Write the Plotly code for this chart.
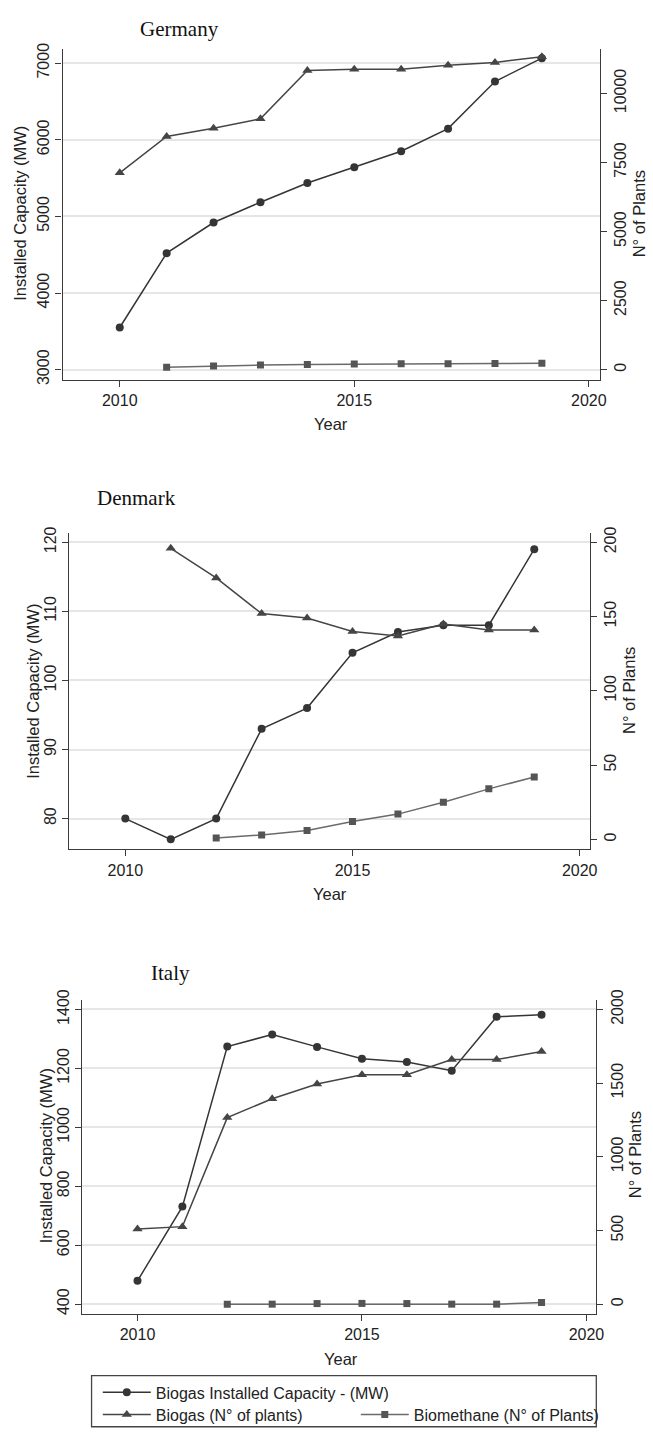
import plotly.graph_objects as go

# ---------------- data ----------------
years = [2010, 2011, 2012, 2013, 2014, 2015, 2016, 2017, 2018, 2019]

germany_capacity_mw = [3550, 4520, 4920, 5185, 5435, 5640, 5850, 6145, 6760, 7065]
germany_biogas_plants = [7125, 8440, 8735, 9080, 10825, 10870, 10870, 11015, 11120, 11325]
germany_biomethane_plants = [None, 85, 130, 165, 190, 205, 215, 215, 225, 230]

denmark_capacity_mw = [80, 77, 80, 93, 96, 104, 107, 108, 108, 119]
denmark_biogas_plants = [None, 196, 176, 152, 149, 140, 137, 145, 141, 141]
denmark_biomethane_plants = [None, None, 1, 3, 6, 12, 17, 25, 34, 42]

italy_capacity_mw = [479, 731, 1274, 1315, 1273, 1233, 1222, 1192, 1375, 1382]
italy_biogas_plants = [510, 526, 1266, 1394, 1494, 1557, 1557, 1660, 1660, 1714]
italy_biomethane_plants = [None, None, 0, 0, 4, 5, 4, 0, 0, 11]

x_ticks = [2010, 2015, 2020]
germany_left_ticks = [3000, 4000, 5000, 6000, 7000]
germany_right_ticks = [0, 2500, 5000, 7500, 10000]
denmark_left_ticks = [80, 90, 100, 110, 120]
denmark_right_ticks = [0, 50, 100, 150, 200]
italy_left_ticks = [400, 600, 800, 1000, 1200, 1400]
italy_right_ticks = [0, 500, 1000, 1500, 2000]

series_names = ["Biogas Installed Capacity - (MW)", "Biogas (N° of plants)", "Biomethane (N° of Plants)"]

# ---------------- layout helpers ----------------
W, H = 653, 1436
def px_x(p):
    return p / W
def px_y(p):
    return 1 - p / H

SANS = "Liberation Sans, Arial, sans-serif"
SERIF = "Liberation Serif, Times New Roman, serif"
AX = "#3a3a3a"
GRID = "#e6e6e6"
FS = 16

CAP_COLOR = "#353535"
BIO_COLOR = "#454545"
BME_LINE = "#6a6a6a"
BME_MARK = "#555555"

fig = go.Figure()

panels = [
    ("Germany", germany_capacity_mw, germany_biogas_plants, germany_biomethane_plants, "x", "y", "y2"),
    ("Denmark", denmark_capacity_mw, denmark_biogas_plants, denmark_biomethane_plants, "x2", "y3", "y4"),
    ("Italy", italy_capacity_mw, italy_biogas_plants, italy_biomethane_plants, "x3", "y5", "y6"),
]

for i, (name, cap, bio, bme, xa, yl, yr) in enumerate(panels):
    last = (i == len(panels) - 1)
    fig.add_trace(go.Scatter(
        x=years, y=cap, xaxis=xa, yaxis=yl, mode="lines+markers",
        name=series_names[0], showlegend=last, legend="legend",
        line=dict(color=CAP_COLOR, width=1.5),
        marker=dict(symbol="circle", size=8, color=CAP_COLOR),
    ))
    fig.add_trace(go.Scatter(
        x=years, y=bio, xaxis=xa, yaxis=yr, mode="lines+markers",
        name=series_names[1], showlegend=last, legend="legend2",
        line=dict(color=BIO_COLOR, width=1.5),
        marker=dict(symbol="triangle-up", size=9, color=BIO_COLOR),
    ))
    fig.add_trace(go.Scatter(
        x=years, y=bme, xaxis=xa, yaxis=yr, mode="lines+markers",
        name=series_names[2], showlegend=last, legend="legend2",
        line=dict(color=BME_LINE, width=1.5),
        marker=dict(symbol="square", size=7, color=BME_MARK),
    ))

def xaxis_cfg(left, right, rng, anchor):
    return dict(domain=[px_x(left), px_x(right)], anchor=anchor, range=rng,
                tickmode="array", tickvals=x_ticks, showgrid=False, zeroline=False,
                showline=True, linecolor=AX, linewidth=1.3, ticks="outside",
                ticklen=6, tickwidth=1.3, tickcolor=AX,
                tickfont=dict(family=SANS, size=FS, color="#222"))

def yleft_cfg(top, bottom, rng, ticks, anchor):
    return dict(domain=[px_y(bottom), px_y(top)], anchor=anchor, range=rng,
                tickmode="array", tickvals=ticks, tickangle=-90, tickformat="d",
                showgrid=True, gridcolor=GRID, gridwidth=1.5, zeroline=False,
                showline=True, linecolor=AX, linewidth=1.3, ticks="outside",
                ticklen=6, tickwidth=1.3, tickcolor=AX,
                tickfont=dict(family=SANS, size=FS, color="#222"))

def yright_cfg(rng, ticks, anchor, overlay):
    return dict(overlaying=overlay, side="right", anchor=anchor, range=rng,
                tickmode="array", tickvals=ticks, tickangle=-90, tickformat="d",
                showgrid=False, zeroline=False,
                showline=True, linecolor=AX, linewidth=1.3, ticks="outside",
                ticklen=6, tickwidth=1.3, tickcolor=AX,
                tickfont=dict(family=SANS, size=FS, color="#222"))

g_left, g_right, g_top, g_bot = 63.3, 607.0, 38.3, 373.3
d_left, d_right, d_top, d_bot = 70.3, 597.0, 527.7, 847.7
i_left, i_right, i_top, i_bot = 83.3, 603.7, 1000.0, 1317.7

fig.update_layout(
    xaxis=xaxis_cfg(g_left, g_right, [2008.78, 2020.23], "y"),
    yaxis=yleft_cfg(g_top, g_bot, [2863, 7186], germany_left_ticks, "x"),
    yaxis2=yright_cfg([-379, 11610], germany_right_ticks, "x", "y"),
    xaxis2=xaxis_cfg(d_left, d_right, [2008.77, 2020.22], "y3"),
    yaxis3=yleft_cfg(d_top, d_bot, [75.56, 121.37], denmark_left_ticks, "x2"),
    yaxis4=yright_cfg([-6.66, 206.4], denmark_right_ticks, "x2", "y3"),
    xaxis3=xaxis_cfg(i_left, i_right, [2008.77, 2020.22], "y5"),
    yaxis5=yleft_cfg(i_top, i_bot, [366.4, 1432.6], italy_left_ticks, "x3"),
    yaxis6=yright_cfg([-67, 2065], italy_right_ticks, "x3", "y5"),
)

annotations = []
def ann(text, x, y, size=FS, family=SANS, angle=0, color="#222"):
    annotations.append(dict(text=text, x=px_x(x), y=px_y(y), xref="paper", yref="paper",
                            showarrow=False, xanchor="center", yanchor="middle",
                            textangle=angle, font=dict(family=family, size=size, color=color)))

ann("Germany", 182, 18, size=21, family=SERIF, color="#111")
ann("Denmark", 138, 492, size=21, family=SERIF, color="#111")
ann("Italy", 173, 973, size=21, family=SERIF, color="#111")

ann("Installed Capacity (MW)", 20.3, 205, angle=-90, size=16.5)
ann("Installed Capacity (MW)", 33.3, 687.5, angle=-90, size=16.5)
ann("Installed Capacity (MW)", 46.7, 1158, angle=-90, size=16.5)
ann("N° of Plants", 646.5, 205, angle=-90, size=16.5)
ann("N° of Plants", 637, 687.5, angle=-90, size=16.5)
ann("N° of Plants", 643, 1157, angle=-90, size=16.5)
ann("Year", 335, 418, size=16.5)
ann("Year", 334, 893, size=16.5)
ann("Year", 345, 1363, size=16.5)

shapes = [dict(type="rect", xref="paper", yref="paper",
               x0=px_x(92.7), x1=px_x(603.7), y0=px_y(1431.7), y1=px_y(1380),
               line=dict(color="#444", width=1.3), fillcolor="rgba(0,0,0,0)")]

fig.update_layout(
    width=W, height=H,
    margin=dict(l=0, r=0, t=0, b=0),
    paper_bgcolor="white", plot_bgcolor="white",
    font=dict(family=SANS, size=FS, color="#222"),
    annotations=annotations, shapes=shapes,
    legend=dict(x=px_x(99), y=px_y(1397), xanchor="left", yanchor="middle",
                orientation="v", bgcolor="rgba(0,0,0,0)", borderwidth=0,
                font=dict(family=SANS, size=FS, color="#222"), itemwidth=48),
    legend2=dict(x=px_x(99), y=px_y(1419.5), xanchor="left", yanchor="middle",
                 orientation="h", bgcolor="rgba(0,0,0,0)", borderwidth=0,
                 entrywidth=195, entrywidthmode="pixels",
                 font=dict(family=SANS, size=FS, color="#222"), itemwidth=48),
)

fig.write_html("out.html", config={"displayModeBar": False},
               post_script="document.body.style.margin='0';")
